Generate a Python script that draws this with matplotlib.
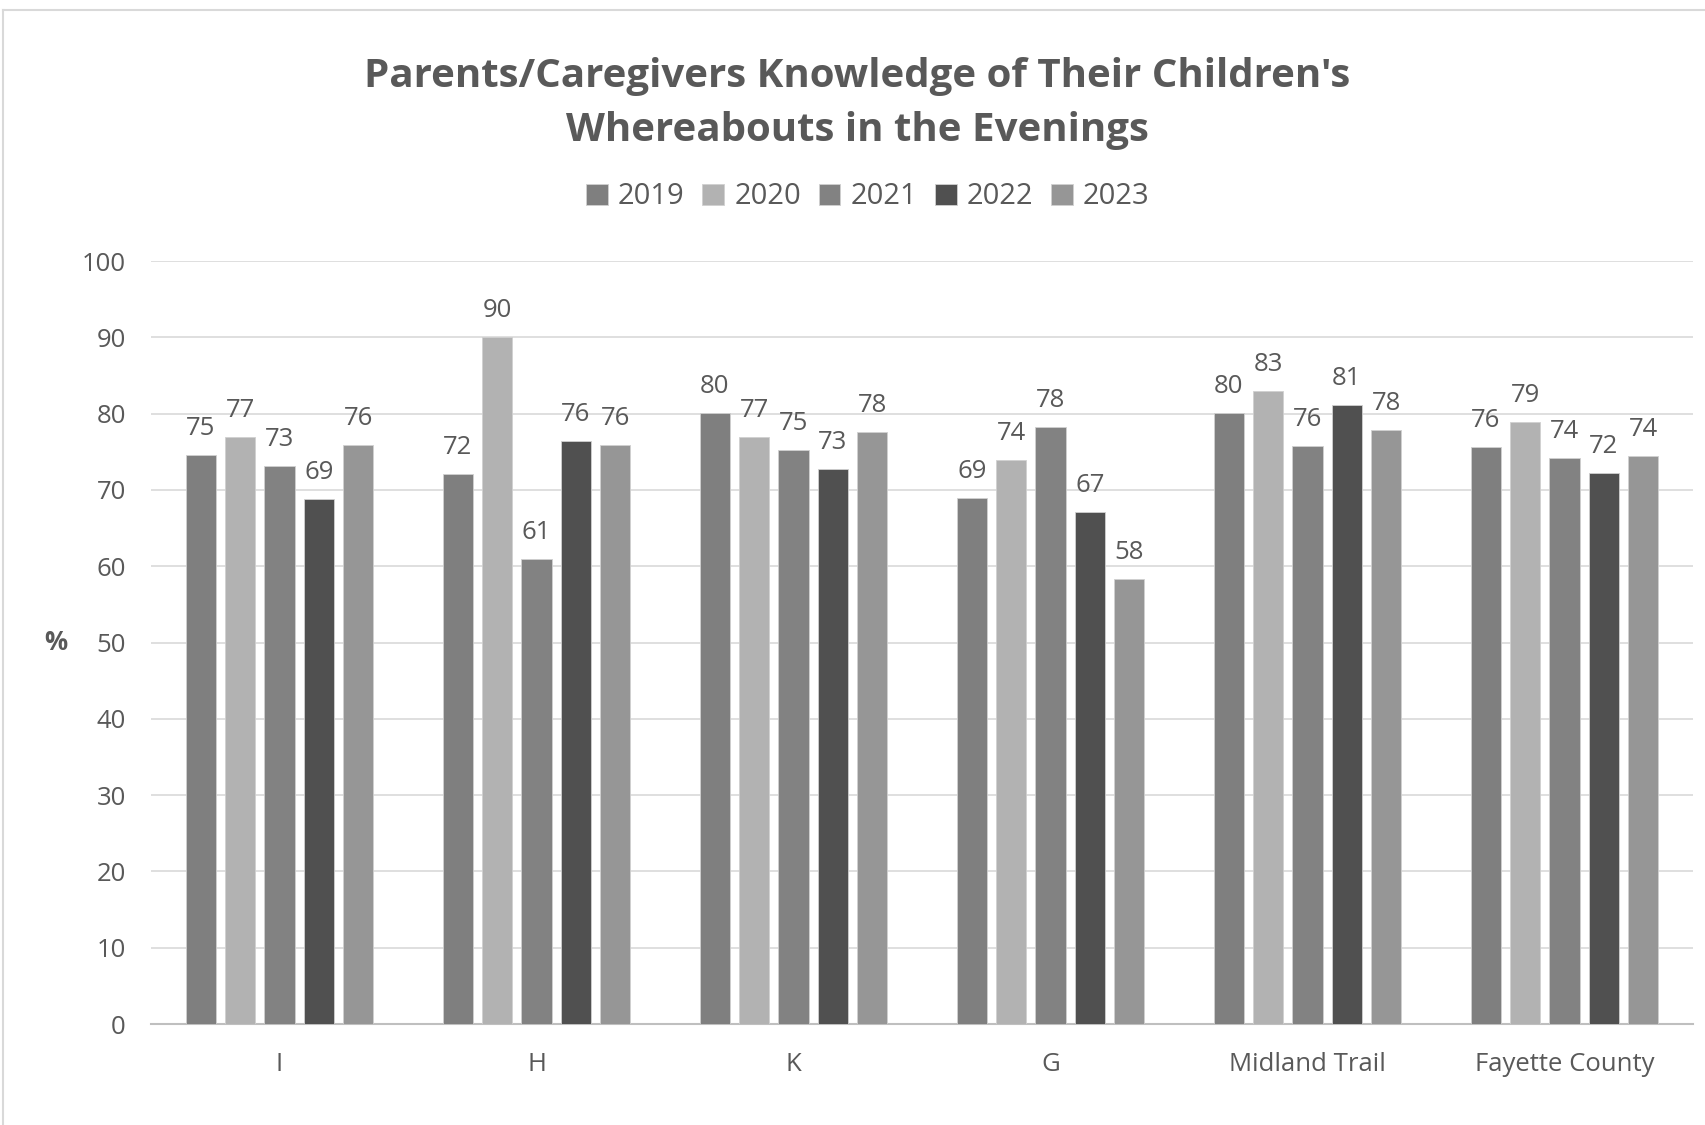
import numpy as np
import matplotlib.pyplot as plt
from matplotlib.lines import Line2D

plt.rcParams['font.family'] = ['Open Sans', 'DejaVu Sans']

schools = ["I", "H", "K", "G", "Midland Trail", "Fayette County"]
years = ["2019", "2020", "2021", "2022", "2023"]
v2019 = [74.6, 72.1, 80.1, 68.9, 80.1, 75.6]
v2020 = [76.9, 90.0, 76.9, 73.9, 83.0, 78.9]
v2021 = [73.1, 61.0, 75.2, 78.2, 75.8, 74.2]
v2022 = [68.8, 76.4, 72.8, 67.1, 81.1, 72.2]
v2023 = [75.9, 75.9, 77.6, 58.3, 77.9, 74.4]
colors = ["#7f7f7f", "#b2b2b2", "#828282", "#505050", "#969696"]
text_col = "#595959"

fig = plt.figure(figsize=(17.05, 11.25), dpi=100)
ax = fig.add_axes([151 / 1705, 1 - 1024 / 1125, (1693 - 151) / 1705, (1024 - 261) / 1125])

x = np.arange(len(schools))
step = 0.153
width = 0.119
for i, (yr, vals) in enumerate(zip(years, [v2019, v2020, v2021, v2022, v2023])):
    pos = x + (i - 2) * step
    bars = ax.bar(pos, vals, width, color=colors[i], label=yr, zorder=3,
                  edgecolor="#d0d0d0", linewidth=0.6)
    ax.bar_label(bars, fmt="%.0f", padding=10, fontsize=18.5, color=text_col)

ax.set_xlim(-0.5, 5.5)
ax.set_ylim(0, 100)
ax.set_yticks(range(0, 101, 10))
ax.set_xticks(x)
ax.set_xticklabels(schools)
ax.tick_params(axis="both", length=0, labelsize=18.5, labelcolor=text_col)
ax.tick_params(axis="x", pad=20)
ax.tick_params(axis="y", pad=18)
ax.grid(axis="y", color="#d9d9d9", linewidth=1.2, zorder=0)
for s in ["top", "right", "left"]:
    ax.spines[s].set_visible(False)
ax.spines["bottom"].set_color("#bfbfbf")
ax.spines["bottom"].set_linewidth(1.5)

ax.set_ylabel("%", fontsize=18.5, fontweight="bold", color=text_col, rotation=0, va="center", ha="center")
ax.yaxis.set_label_coords(-0.062, 0.5)

fig.text(0.503, 1 - 103 / 1125, "Parents/Caregivers Knowledge of Their Children's\nWhereabouts in the Evenings",
         ha="center", va="center", fontsize=29, fontweight="bold", color=text_col, linespacing=1.5)

fig.legend(loc="center", bbox_to_anchor=(0.509, 1 - 197 / 1125), ncol=5, frameon=False,
           fontsize=21, handlelength=0.75, handleheight=0.75, handletextpad=0.35,
           columnspacing=0.6, labelcolor=text_col)

# chart border
fig.add_artist(Line2D([0.0015, 1], [1 - 10 / 1125] * 2, color="#d9d9d9", linewidth=1.5))
fig.add_artist(Line2D([0.0015, 0.0015], [0, 1 - 10 / 1125], color="#d9d9d9", linewidth=1.5))

fig.savefig("out.png", dpi=100, facecolor="white")
